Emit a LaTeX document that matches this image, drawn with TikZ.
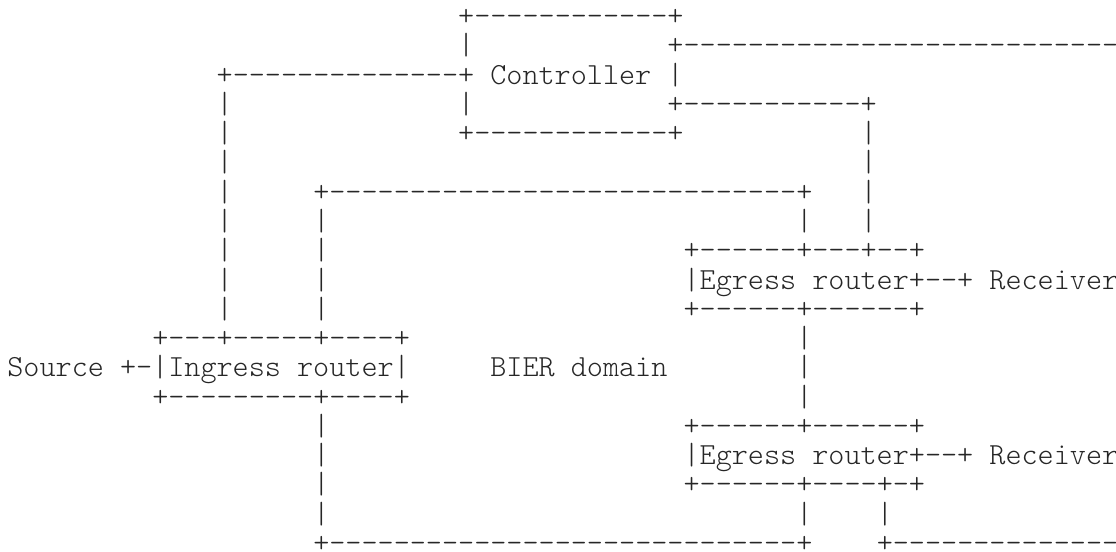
\documentclass[tikz,border=0pt]{standalone}
\usepackage{fontspec}
\setmonofont{Latin Modern Mono Light}
\usepackage{tikz}
\newcommand{\dashes}[1]{\foreach \k in {1,...,#1}{-}}
\tikzset{
  ascii/.style = {font=\ttfamily\fontsize{23}{26}\selectfont, anchor=base west,
                  inner sep=0pt, outer sep=0pt, text=black!85},
}

\begin{document}
\begin{tikzpicture}[x=12.075pt, y=21.96pt]
  \useasboundingbox (-0.457,0.871) rectangle (68.86,-17.98);

  % ---- controller box and its links --------------------------------------
  \node[ascii] (ctltop)  at (28,0)  {+\dashes{12}+};
  \node[ascii] (ctlsl)   at (28,-1) {|};
  \node[ascii] (ctlout)  at (41,-1) {+\dashes{27}};
  \node[ascii] (ctlmid)  at (13,-2) {+\dashes{14}+ Controller |};
  \node[ascii] (ctlsl2)  at (28,-3) {|};
  \node[ascii] (ctlegr)  at (41,-3) {+\dashes{11}+};
  \node[ascii] (ctlbot)  at (28,-4) {+\dashes{12}+};

  % ---- BIER domain outline -----------------------------------------------
  \node[ascii] (domtop)  at (19,-6)  {+\dashes{29}+};
  \node[ascii] (domlbl)  at (30,-12) {BIER domain};
  \node[ascii] (dombot)  at (19,-18) {+\dashes{29}+};
  \node[ascii] (domout)  at (54,-18) {+\dashes{14}};

  % ---- ingress router ----------------------------------------------------
  \node[ascii] (ingtop)  at (9,-11) {+\dashes{3}+\dashes{5}+\dashes{4}+};
  \node[ascii] (ingmid)  at (0,-12) {Source +-|Ingress router|};
  \node[ascii] (ingbot)  at (9,-13) {+\dashes{9}+\dashes{4}+};

  % ---- egress routers ----------------------------------------------------
  \node[ascii] (egatop)  at (42,-8)  {+\dashes{6}+\dashes{3}+\dashes{2}+};
  \node[ascii] (egamid)  at (42,-9)  {|Egress router+\dashes{2}+ Receiver};
  \node[ascii] (egabot)  at (42,-10) {+\dashes{6}+\dashes{6}+};
  \node[ascii] (egbtop)  at (42,-14) {+\dashes{6}+\dashes{6}+};
  \node[ascii] (egbmid)  at (42,-15) {|Egress router+\dashes{2}+ Receiver};
  \node[ascii] (egbbot)  at (42,-16) {+\dashes{6}+\dashes{4}+\dashes{1}+};

  % ---- vertical runs -----------------------------------------------------
  \foreach \r in {3,...,10} { \node[ascii] (va-\r) at (13,-\r) {|}; }
  \foreach \r in {7,...,10,14,15,16,17} { \node[ascii] (vb-\r) at (19,-\r) {|}; }
  \foreach \r in {7,11,12,13,17} { \node[ascii] (vc-\r) at (49,-\r) {|}; }
  \foreach \r in {4,...,7} { \node[ascii] (vd-\r) at (53,-\r) {|}; }
  \node[ascii] (ve-17) at (54,-17) {|};
\end{tikzpicture}
\end{document}
